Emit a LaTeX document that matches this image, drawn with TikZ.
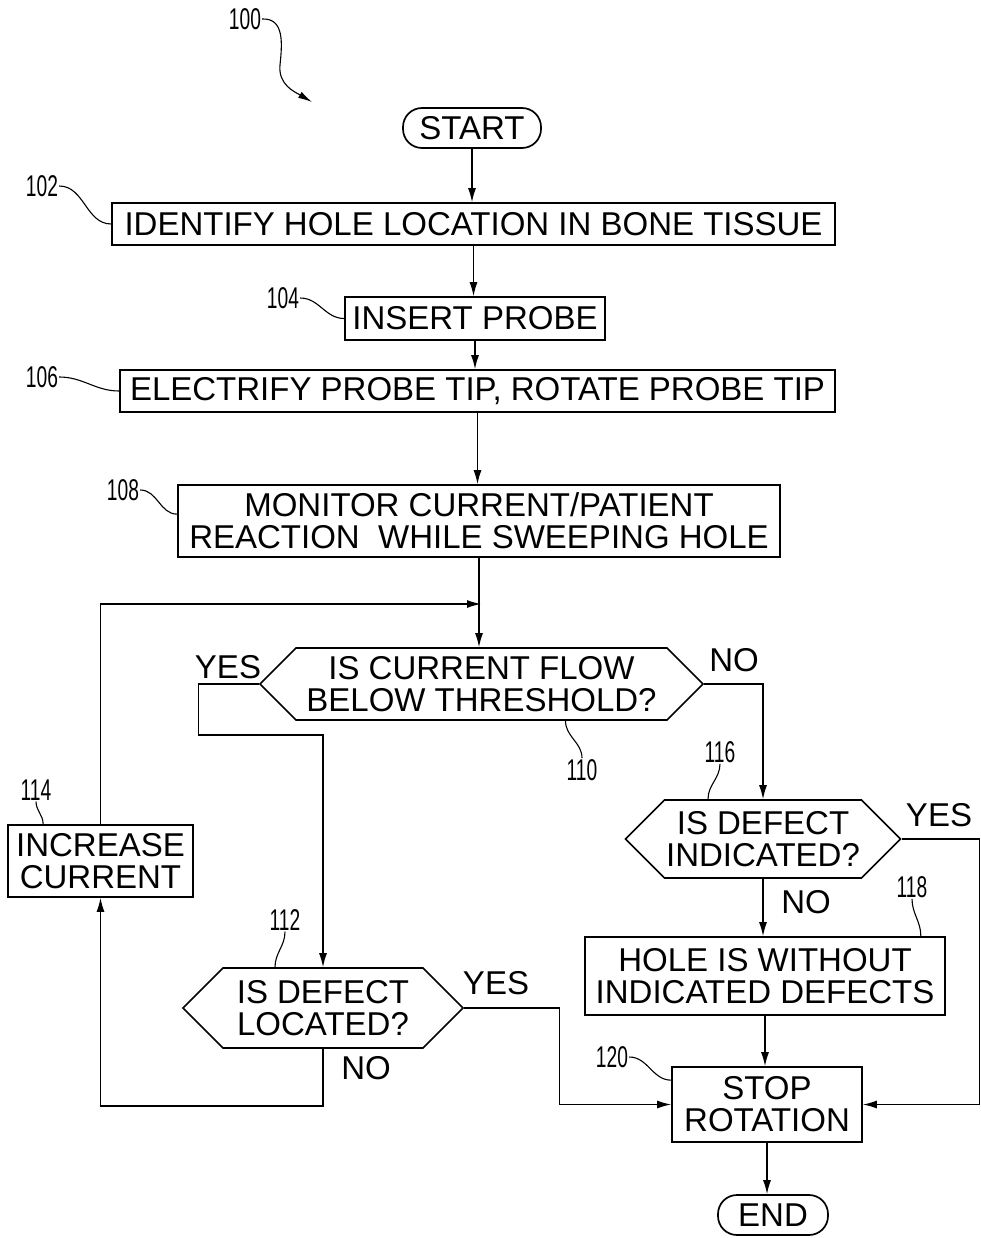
\documentclass[tikz,border=0pt]{standalone}
\usepackage{fontspec}
\setmainfont{Liberation Sans}
\newfontfamily\numfont[FakeStretch=0.64]{Liberation Sans}
\usetikzlibrary{positioning,arrows.meta,shapes.symbols,calc}

\begin{document}
\begin{tikzpicture}[x=1pt,y=-1pt,
                  font=\fontsize{33}{32}\selectfont,
                  box/.style={draw,line width=1.7pt,align=center,inner sep=0pt},
                  term/.style={draw,line width=1.7pt,rounded corners=19pt,minimum height=40pt,inner sep=0pt},
                  dec/.style={draw,line width=1.7pt,signal,signal to=west and east,align=center,inner sep=0pt},
                  arr/.style={-{Latex[length=14pt,width=8pt]},line width=1.3pt},
                  lbl/.style={font=\fontsize{30}{30}\numfont,inner sep=1pt},
                  lead/.style={line width=1.1pt}
                ]
                \useasboundingbox (0,0) rectangle (981,1238);
                % main column
                \node[term,minimum width=138pt] (start) at (472,128) {START};
                \node[box,minimum width=723pt,minimum height=42pt] (b102) at (473.5,224) {IDENTIFY HOLE LOCATION IN BONE TISSUE};
                \node[box,minimum width=260pt,minimum height=43pt] (b104) at (475,318.5) {INSERT PROBE};
                \node[box,minimum width=715pt,minimum height=42pt] (b106) at (477.5,391) {ELECTRIFY PROBE TIP, ROTATE PROBE TIP};
                \node[box,minimum width=602pt,minimum height=72pt] (b108) at (479,521) {MONITOR CURRENT/PATIENT\\REACTION~~WHILE SWEEPING HOLE};
                \node[dec,minimum width=443pt,minimum height=72pt] (d110) at (481.5,684) {IS CURRENT FLOW\\BELOW THRESHOLD?};
                \coordinate (join) at (481,604);
                % left branch
                \node[dec,minimum width=280pt,minimum height=80pt] (d112) at (323,1008) {IS DEFECT\\LOCATED?};
                \node[box,minimum width=185pt,minimum height=72pt] (b114) at (100.5,861) {INCREASE\\CURRENT};
                % right branch
                \node[dec,minimum width=275pt,minimum height=78pt] (d116) at (763,839) {IS DEFECT\\INDICATED?};
                \node[box,minimum width=360pt,minimum height=78pt] (b118) at (765,976) {HOLE IS WITHOUT\\INDICATED DEFECTS};
                \node[box,minimum width=190pt,minimum height=75pt] (b120) at (767,1104.5) {STOP\\ROTATION};
                \node[term,minimum width=110pt] (end) at (773,1215) {END};

                % branch words
                \node (y110) at (228,667) {YES};
                \node (no110) at (734,660) {NO};
                \node (y112) at (496,983) {YES};
                \node (no112) at (366,1068) {NO};
                \node (y116) at (939,815) {YES};
                \node (no116) at (806,902) {NO};

                % reference numerals
                \node[lbl] (n100) at (245,19) {100};
                \node[lbl] (n102) at (42,186) {102};
                \node[lbl] (n104) at (283,298) {104};
                \node[lbl] (n106) at (42,377) {106};
                \node[lbl] (n108) at (123,490) {108};
                \node[lbl] (n110) at (582,770) {110};
                \node[lbl] (n112) at (285,920) {112};
                \node[lbl] (n114) at (36,790) {114};
                \node[lbl] (n116) at (720,752) {116};
                \node[lbl] (n118) at (912,887) {118};
                \node[lbl] (n120) at (612,1057) {120};

                \draw[arr] (start.south) -- (start.south |- b102.north);
                \draw[arr] (b102.south) -- (b102.south |- b104.north);
                \draw[arr] (b104.south) -- (b104.south |- b106.north);
                \draw[arr] (b106.south) -- (b106.south |- b108.north);
                \draw[arr] (b108.south) -- (b108.south |- d110.north);
                \draw[arr] (b114.north) |- (join);
                \draw[arr] (d110.west) -- ++(-60,0) -- ++(0,51) -| (d112.north);
                \draw[arr] (d110.east) -| (d116.north);
                \draw[arr] (d112.east) -- ++(95,0) |- (b120.west);
                \draw[arr] (d112.south) -- ++(0,57) -| (b114.south);
                \draw[arr] (d116.east) -- ++(78,0) |- (b120.east);
                \draw[arr] (d116.south) -- (d116.south |- b118.north);
                \draw[arr] (b118.south) -- (b118.south |- b120.north);
                \draw[arr] (b120.south) -- (b120.south |- end.north);

                \draw[lead,-{Latex[length=14pt,width=7pt]}] (n100.east) .. controls (285,18) and (282,45) .. (280,65) .. controls (278,85) and (295,92) .. (312,102);
                \draw[lead] (n102.east) to[out=0,in=180] (b102.west);
                \draw[lead] (n104.east) to[out=0,in=180] (b104.west);
                \draw[lead] (n106.east) to[out=0,in=180] (b106.west);
                \draw[lead] (n108.east) to[out=0,in=180] ($(b108.north west)+(0,30)$);
                \draw[lead] ($(d110.south)+(84,0)$) to[out=-90,in=90] (n110.north);
                \draw[lead] (n112.south) to[out=-90,in=90] ($(d112.north)+(-48,0)$);
                \draw[lead] (n114.south) to[out=-90,in=90] ($(b114.north west)+(36,0)$);
                \draw[lead] (n116.south) to[out=-90,in=90] ($(d116.north)+(-55,0)$);
                \draw[lead] (n118.south) to[out=-90,in=90] ($(b118.north east)+(-25,0)$);
                \draw[lead] (n120.east) to[out=0,in=180] ($(b120.north west)+(0,14)$);
\end{tikzpicture}
\end{document}
